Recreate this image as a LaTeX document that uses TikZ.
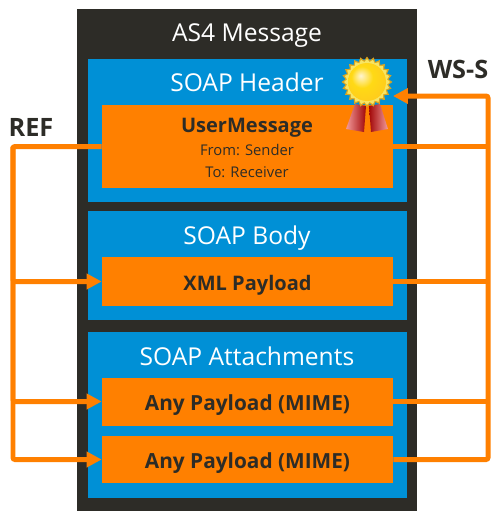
\documentclass[tikz,border=0pt]{standalone}
\usepackage{fontspec}
\setmainfont{Open Sans}
\usetikzlibrary{arrows.meta,positioning,shapes.geometric}
\definecolor{msgdark}{HTML}{2D2C27}
\definecolor{soapblue}{HTML}{0090D6}
\definecolor{partorange}{HTML}{FF8000}
\definecolor{sealgold}{HTML}{D9A520}
\definecolor{sealpale}{HTML}{F7E565}
\definecolor{sealcore}{HTML}{FFC91E}
\definecolor{sealred}{HTML}{D80A0A}
\definecolor{sealpink}{HTML}{F29A9A}
\pgfdeclareradialshading{sealball}{\pgfpoint{-0.3cm}{0.3cm}}{
  color(0cm)=(white!80!sealcore); color(0.5cm)=(sealcore!70!yellow); color(1.2cm)=(sealcore); color(2cm)=(sealcore)}

\begin{document}
\begin{tikzpicture}[
    x=0.02cm, y=-0.02cm,
    msgbox/.style={fill=msgdark, inner sep=0pt, minimum width=6.8cm, minimum height=10.04cm},
    soapbox/.style={fill=soapblue, inner sep=0pt, minimum width=6.38cm},
    partbox/.style={fill=partorange, inner sep=0pt, minimum width=5.82cm, align=center, text=msgdark, text height=1.9ex, text depth=0pt, font=\fontsize{11.4pt}{13pt}\selectfont\bfseries},
    anybox/.style={partbox, font=\fontsize{11.85pt}{13pt}\selectfont\bfseries},
    title/.style={text=white, font=\fontsize{14pt}{16pt}\selectfont},
    small/.style={text=msgdark, font=\fontsize{8.4pt}{10pt}\selectfont},
    tag/.style={text=msgdark, font=\fontsize{14.4pt}{16pt}\selectfont\bfseries},
    wire/.style={draw=partorange, line width=0.1cm, rounded corners=0.04cm},
    tip/.style={-{Triangle[length=0.3cm, width=0.3cm]}}
]
\useasboundingbox (0,0) rectangle (500,518);
\node[msgbox] (msg) at (247,260) {};
\node[soapbox, minimum height=2.86cm] (header) at (247.5,130.5) {};
\node[soapbox, minimum height=2.18cm] (body) at (247.5,265.5) {};
\node[soapbox, minimum height=3.32cm] (attach) at (247.5,415) {};

\node[title] (msgtitle) at (247,35.5) {AS4 Message};
\node[title] (headertitle) at (247,82) {SOAP Header};
\node[title] (bodytitle) at (247,238) {SOAP Body};
\node[title] (attachtitle) at (247,356) {SOAP Attachments};

\node[partbox, minimum height=1.66cm] (user) at (247.5,146.5) {};
\node[partbox, minimum height=0.98cm] (xml) at (247.5,281.5) {XML Payload};
\node[anybox, minimum height=0.96cm] (any1) at (247.5,401.5) {Any Payload (MIME)};
\node[anybox, minimum height=0.94cm] (any2) at (247.5,459.5) {Any Payload (MIME)};
\node[partbox, fill=none] (usertitle) at (247,124) {UserMessage};
\node[small] (from) at (247,150) {From: Sender};
\node[small] (to) at (247,172) {To: Receiver};

% seal
\shade[left color=sealpink, right color=sealred!75!black] (355,104) -- (346,129) -- (364,132) -- (366,106) -- cycle;
\shade[left color=sealred!75!black, right color=sealpink] (369,106) -- (371,132) -- (388,129) -- (380,104) -- cycle;
\node[star, star points=24, star point ratio=1.18, fill=sealgold, inner sep=0pt, minimum size=1.02cm] (seal) at (367,82) {};
\node[star, star points=24, star point ratio=1.14, fill=sealpale, inner sep=0pt, minimum size=0.92cm] (sealring) at (367,82) {};
\node[circle, inner sep=0pt, minimum size=0.76cm, shading=sealball] (sealdisc) at (367,82) {};
\coordinate (sealtip) at (393,96);

\node[tag] (wss) at (458,69) {WS-S};
\node[tag] (ref) at (31,127) {REF};

\coordinate (refbus) at (13,300);
\coordinate (wssbus) at (488,300);

\draw[wire, tip] (user.west) -- (user.west -| refbus) |- (xml.west);
\draw[wire, tip] (user.west -| refbus) |- (any1.west);
\draw[wire, tip] (user.west -| refbus) |- (any2.west);

\draw[wire] (user.east) -- (user.east -| wssbus);
\draw[wire] (xml.east) -- (xml.east -| wssbus);
\draw[wire] (any1.east) -- (any1.east -| wssbus);
\draw[wire, tip] (any2.east) -- (any2.east -| wssbus) |- (sealtip);
\end{tikzpicture}
\end{document}
